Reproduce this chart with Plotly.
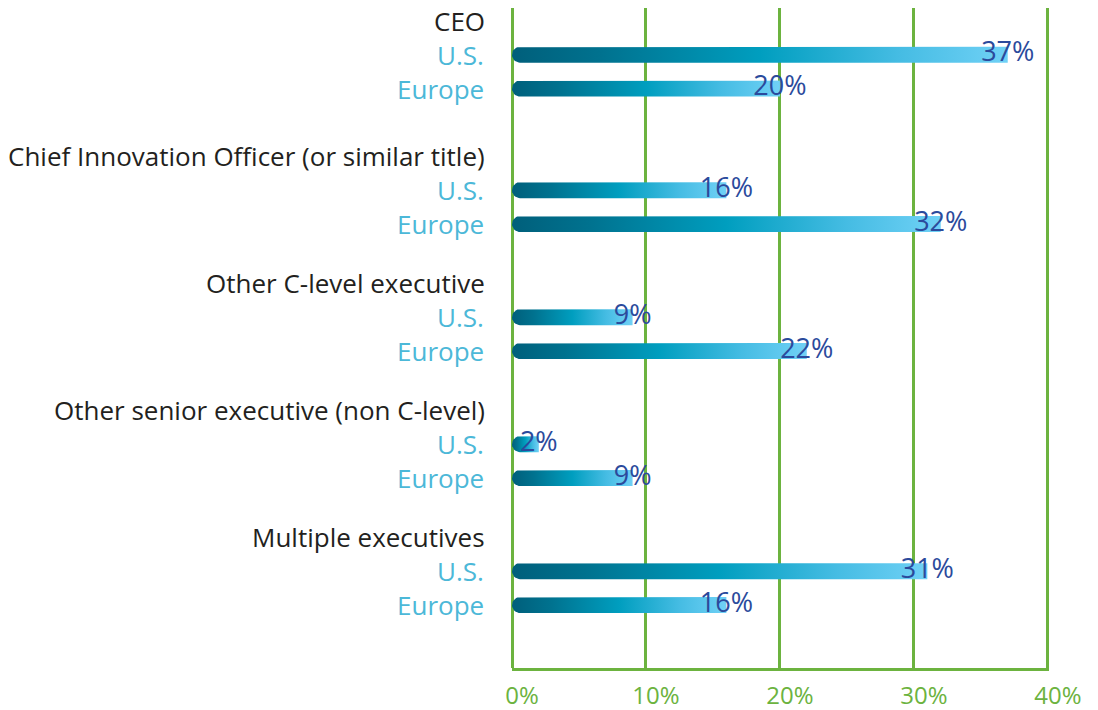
import numpy as np
import plotly.graph_objects as go

# survey data (percent of respondents)
categories = [
    "CEO",
    "Chief Innovation Officer (or similar title)",
    "Other C-level executive",
    "Other senior executive (non C-level)",
    "Multiple executives",
]
regions = ["U.S.", "Europe"]
us_vals = [37, 16, 9, 2, 31]
europe_vals = [20, 32, 22, 9, 16]
x_ticks = [0, 10, 20, 30, 40]

GREEN = "#6cb33f"
LABEL_BLUE = "#4cb8d8"
VALUE_BLUE = "#2b4a9c"
DARK = "#231f20"
FONT = "Open Sans"

# page body adds 8px, figure starts at (8, 8) in the window
W, H = 1082, 702
M = dict(l=504, r=41, t=0, b=42)
x_range = [0, 40.08]
y_range = [19.11, -0.38]   # reversed, 1 unit = one row

px_x = (W - M["l"] - M["r"]) / (x_range[1] - x_range[0])
px_y = (H - M["t"] - M["b"]) / abs(y_range[0] - y_range[1])

grad = [[0, "#005f7b"], [0.18, "#00728f"], [0.5, "#009ebf"],
        [0.78, "#45bce3"], [1, "#70d1f6"]]

# row positions: header, then U.S. and Europe rows
def header_y(i):
    return 3.75 * i + (0.25 if i > 0 else 0)

fig = go.Figure()

half_h = 8 / px_y
rx = 8 / px_x
ann = []
lab_x, lab_y, lab_t = [], [], []
for i, cat in enumerate(categories):
    hy = header_y(i)
    ann.append(dict(x=0, xref="paper", xshift=-26, y=hy, yref="y", text=cat,
                    showarrow=False, xanchor="right", yanchor="middle",
                    borderpad=0, font=dict(family=FONT, size=26, color=DARK)))
    for j, (reg, v) in enumerate(zip(regions, [us_vals[i], europe_vals[i]])):
        y = hy + 1 + j
        ann.append(dict(x=0, xref="paper", xshift=-26, y=y, yref="y", text=reg,
                        showarrow=False, xanchor="right", yanchor="middle",
                        font=dict(family=FONT, size=26, color=LABEL_BLUE)))
        # bar outline with rounded left end
        t = np.linspace(np.pi / 2, 3 * np.pi / 2, 20)
        xs = [v] + list(rx + rx * np.cos(t)) + [v, v]
        ys = [y - half_h] + list(y - half_h * np.sin(t)) + [y + half_h, y - half_h]
        fig.add_trace(go.Scatter(
            x=xs, y=ys, mode="lines", fill="toself", line=dict(width=0),
            fillgradient=dict(type="horizontal", colorscale=grad),
            hoverinfo="skip", showlegend=False))
        lab_x.append(v)
        lab_y.append(y)
        lab_t.append(f"{v}%")

fig.add_trace(go.Scatter(
    x=lab_x, y=lab_y, text=lab_t, mode="text", textposition="middle center",
    textfont=dict(family=FONT, size=27, color=VALUE_BLUE),
    hoverinfo="skip", showlegend=False))

fig.update_layout(
    width=W, height=H, margin=M,
    paper_bgcolor="white", plot_bgcolor="white",
    annotations=ann,
    xaxis=dict(range=x_range, tickvals=x_ticks, ticktext=[f"{t}%" for t in x_ticks],
               automargin=False,
               showgrid=True, gridcolor=GREEN, gridwidth=3,
               zeroline=True, zerolinecolor=GREEN, zerolinewidth=3,
               showline=True, linecolor=GREEN, linewidth=3,
               ticks="", ticklabelstandoff=4, ticklabelshift=10,
               tickfont=dict(family=FONT, size=24, color=GREEN)),
    yaxis=dict(range=y_range, automargin=False, showgrid=False, zeroline=False,
               showticklabels=False, showline=False),
)

fig.write_html("out.html")
